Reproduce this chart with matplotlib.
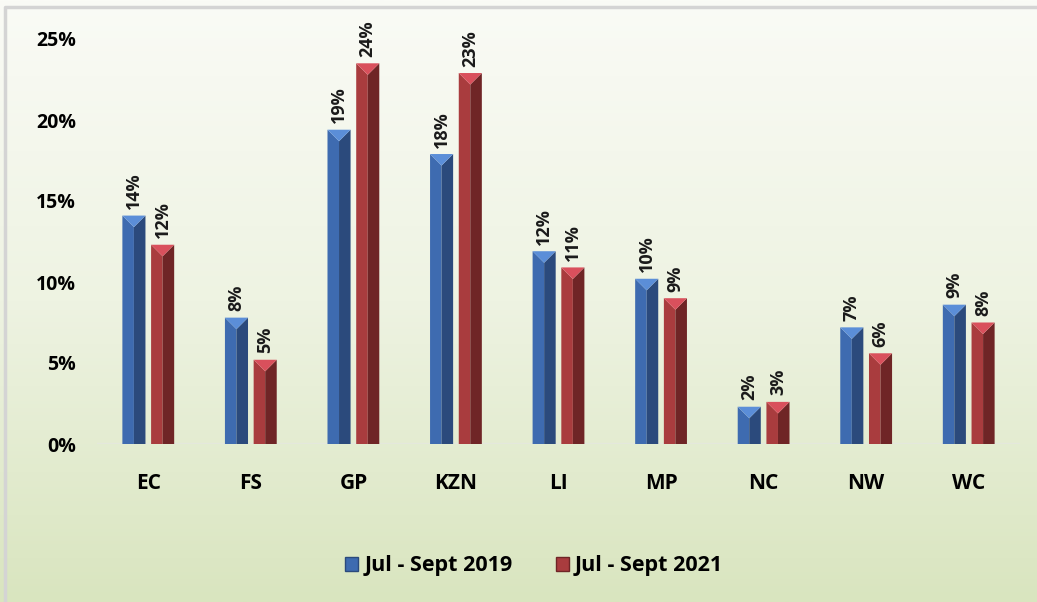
import numpy as np
import matplotlib.pyplot as plt
from matplotlib.patches import Polygon, Rectangle
from matplotlib.colors import LinearSegmentedColormap

regions = ['EC', 'FS', 'GP', 'KZN', 'LI', 'MP', 'NC', 'NW', 'WC']
jul_sept_2019 = [14.1, 7.8, 19.4, 17.9, 11.9, 10.2, 2.3, 7.2, 8.6]
jul_sept_2021 = [12.3, 5.2, 23.5, 22.9, 10.9, 9.0, 2.6, 5.6, 7.5]
series_names = ['Jul - Sept 2019', 'Jul - Sept 2021']
yticks = [0, 5, 10, 15, 20, 25]

# colours: (top triangle, left face, right face)
blue = ('#5b8ed8', '#3e6bb0', '#2b4a7c')
red = ('#d9505c', '#a93c3e', '#6f2526')

plt.rcParams['font.family'] = ['Open Sans', 'DejaVu Sans']

fig = plt.figure(figsize=(10.37, 6.02), dpi=100)

# background gradient over the whole figure
bg = fig.add_axes([0, 0, 1, 1], zorder=-10)
grad = np.linspace(0, 1, 256).reshape(-1, 1)
cmap = LinearSegmentedColormap.from_list('bg', ['#fafbf6', '#eef3e2', '#d9e5bf'])
bg.imshow(grad, aspect='auto', cmap=cmap, extent=[0, 1, 0, 1], origin='upper')
bg.plot([0.005, 0.005, 1], [0, 0.988, 0.988], color='#d4d4d4', linewidth=2.5,
        transform=bg.transAxes)
bg.set_xlim(0, 1)
bg.set_ylim(0, 1)
bg.axis('off')

ax = fig.add_axes([97 / 1037, 1 - 444 / 602, (1020 - 97) / 1037, (444 - 39) / 602])
ax.patch.set_alpha(0)
ax.set_xlim(-0.5, len(regions) - 0.5)
ax.set_ylim(0, 25)

x = np.arange(len(regions))
w = 0.225
gap = 0.055
px_per_x = (1020 - 97) / len(regions)
px_per_y = (444 - 39) / 25.0


def bevel_bar(xc, h, cols):
    x0, x1 = xc - w / 2, xc + w / 2
    xm = xc
    dy = min(w / 2 * px_per_x / px_per_y, h)
    top, left, right = cols
    ax.add_patch(Polygon([(x0, 0), (xm, 0), (xm, h - dy), (x0, h)],
                         closed=True, facecolor=left, edgecolor='none'))
    ax.add_patch(Polygon([(xm, 0), (x1, 0), (x1, h), (xm, h - dy)],
                         closed=True, facecolor=right, edgecolor='none'))
    ax.add_patch(Polygon([(x0, h), (x1, h), (xm, h - dy)],
                         closed=True, facecolor=top, edgecolor='none'))


for i in range(len(regions)):
    xb = x[i] - (w + gap) / 2
    xr = x[i] + (w + gap) / 2
    bevel_bar(xb, jul_sept_2019[i], blue)
    bevel_bar(xr, jul_sept_2021[i], red)
    ax.text(xb, jul_sept_2019[i] + 0.4, f'{round(jul_sept_2019[i])}%', rotation=90,
            ha='center', va='bottom', fontsize=13, fontweight='bold', color='#1a1a1a')
    ax.text(xr, jul_sept_2021[i] + 0.4, f'{round(jul_sept_2021[i])}%', rotation=90,
            ha='center', va='bottom', fontsize=13, fontweight='bold', color='#1a1a1a')

ax.axhline(0, color='#e4e8dc', linewidth=2.5, zorder=0)

for s in ax.spines.values():
    s.set_visible(False)
ax.set_yticks(yticks)
ax.set_yticklabels([f'{t}%' for t in yticks], fontsize=14, fontweight='bold')
ax.set_xticks(x)
ax.set_xticklabels(regions, fontsize=15, fontweight='bold')
ax.tick_params(axis='y', length=0, pad=15)
ax.tick_params(axis='x', length=0, pad=21)

handles = [Rectangle((0, 0), 1, 1, facecolor=blue[1], edgecolor=blue[2]),
           Rectangle((0, 0), 1, 1, facecolor=red[1], edgecolor=red[2])]
fig.legend(handles, series_names, loc='center', bbox_to_anchor=(0.515, 1 - 566 / 602),
           ncol=2, frameon=False, prop={'size': 15.5, 'weight': 'bold'},
           handlelength=0.6, handleheight=0.6, handletextpad=0.3, columnspacing=2.0)

fig.savefig('out.png', dpi=100)
